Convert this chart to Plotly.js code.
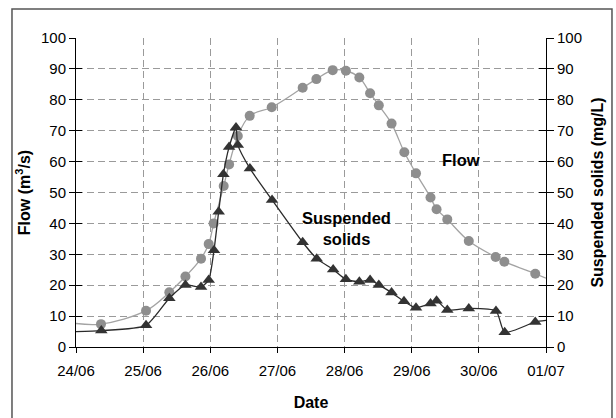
<!DOCTYPE html>
<html>
<head>
<meta charset="utf-8">
<script src="https://cdn.plot.ly/plotly-3.0.1.min.js"></script>
<style>
  html, body { margin: 0; padding: 0; background: #fff; }
  #chart { width: 616px; height: 418px; }
</style>
</head>
<body>
<div id="chart"></div>
<script>
// Day offsets since 24/06 00:00 (first and last entries are where the curves meet the axes)
const flowDay = [0, 0.372, 1.043, 1.39, 1.63, 1.862, 1.976, 2.05, 2.2, 2.28, 2.41, 2.587, 2.915, 3.376, 3.58, 3.823, 4.02, 4.22, 4.38, 4.51, 4.70, 4.89, 5.064, 5.28, 5.37, 5.53, 5.85, 6.25, 6.38, 6.84, 7.0];
const flowVal = [7.6, 7.4, 11.75, 17.7, 22.8, 28.6, 33.3, 40.0, 52.1, 59.1, 68.3, 74.8, 77.6, 83.9, 86.7, 89.6, 89.4, 87.2, 82.1, 78.2, 72.3, 63.0, 56.2, 48.4, 44.6, 41.3, 34.3, 29.1, 27.6, 23.7, 22.3];

const ssDay = [0, 0.377, 1.043, 1.39, 1.63, 1.862, 1.976, 2.055, 2.125, 2.195, 2.28, 2.383, 2.41, 2.59, 2.92, 3.376, 3.585, 3.83, 4.02, 4.22, 4.38, 4.51, 4.70, 4.885, 5.064, 5.28, 5.37, 5.53, 5.85, 6.255, 6.385, 6.84, 7.0];
const ssVal = [5.0, 5.3, 7.0, 15.8, 20.1, 19.4, 21.7, 31.3, 43.8, 55.9, 64.7, 71.0, 65.4, 57.8, 47.6, 33.9, 28.6, 25.1, 21.9, 21.1, 21.7, 20.1, 17.6, 14.8, 12.7, 14.1, 15.0, 12.0, 12.5, 11.65, 4.75, 8.1, 8.6];

const xTickPos = [0, 1, 2, 3, 4, 5, 6, 7];
const xTickLabels = ['24/06', '25/06', '26/06', '27/06', '28/06', '29/06', '30/06', '01/07'];
const yTicks = [0, 10, 20, 30, 40, 50, 60, 70, 80, 90, 100];

const FONT = 'Liberation Sans, Arial, sans-serif';

const traces = [
  { x: flowDay, y: flowVal, mode: 'lines', line: { color: '#a3a3a3', width: 1.3, shape: 'spline', smoothing: 1 }, hoverinfo: 'skip' },
  { x: flowDay.slice(1, -1), y: flowVal.slice(1, -1), mode: 'markers', marker: { symbol: 'circle', size: 10, color: '#8e8e8e' } },
  { x: ssDay, y: ssVal, yaxis: 'y2', mode: 'lines', line: { color: '#2a2a2a', width: 1.3, shape: 'spline', smoothing: 0.6 }, hoverinfo: 'skip' },
  { x: ssDay.slice(1, -1), y: ssVal.slice(1, -1), yaxis: 'y2', mode: 'markers', marker: { symbol: 'triangle-up', size: 11, color: '#333333' } }
];

const gridDash = '7px,4px';

const layout = {
  width: 616, height: 418,
  margin: { l: 76, r: 70, t: 38, b: 71, pad: 0 },
  paper_bgcolor: '#ffffff', plot_bgcolor: '#ffffff',
  showlegend: false,
  font: { family: FONT, size: 15, color: '#000' },
  xaxis: {
    range: [0, 7], tickmode: 'array', tickvals: xTickPos, ticktext: xTickLabels,
    showgrid: true, gridcolor: '#9a9a9a', griddash: gridDash, gridwidth: 1,
    showline: true, linecolor: '#000', linewidth: 1,
    ticks: 'outside', ticklen: 5, tickcolor: '#000', zeroline: false,
    ticklabelstandoff: 5,
    tickfont: { family: FONT, size: 15, color: '#000' },
    title: { text: '<b>Date</b>', font: { family: FONT, size: 16, color: '#000' }, standoff: 18 }
  },
  yaxis: {
    range: [0, 100], tickmode: 'array', tickvals: yTicks,
    showgrid: true, gridcolor: '#9a9a9a', griddash: gridDash, gridwidth: 1,
    showline: true, linecolor: '#000', linewidth: 1,
    ticks: 'outside', ticklen: 6, tickcolor: '#000', zeroline: false,
    tickfont: { family: FONT, size: 15, color: '#000' },
    title: { text: '<b>Flow (m<sup>3</sup>/s)</b>', font: { family: FONT, size: 16, color: '#000' }, standoff: 6 }
  },
  yaxis2: {
    overlaying: 'y', side: 'right', range: [0, 100], tickmode: 'array', tickvals: yTicks,
    showgrid: false, showline: true, linecolor: '#000', linewidth: 1,
    ticks: 'outside', ticklen: 7, tickcolor: '#000', zeroline: false,
    tickfont: { family: FONT, size: 15, color: '#000' },
    title: { text: '<b>Suspended solids (mg/L)</b>', font: { family: FONT, size: 16, color: '#000' }, standoff: 10 }
  },
  yaxis3: {
    overlaying: 'y', side: 'left', range: [0, 100], tickmode: 'array', tickvals: yTicks,
    showgrid: false, showline: false, zeroline: false, showticklabels: false,
    ticks: 'inside', ticklen: 6, tickcolor: '#000'
  },
  yaxis4: {
    overlaying: 'y', side: 'right', range: [0, 100], tickmode: 'array', tickvals: yTicks,
    showgrid: false, showline: false, zeroline: false, showticklabels: false,
    ticks: 'inside', ticklen: 7, tickcolor: '#000'
  },
  annotations: [
    { x: 5.74, y: 60.5, xref: 'x', yref: 'y', text: '<b>Flow</b>', showarrow: false,
      font: { family: FONT, size: 16.5, color: '#000' } },
    { x: 4.03, y: 38.5, xref: 'x', yref: 'y', text: '<b>Suspended<br>solids</b>', showarrow: false,
      font: { family: FONT, size: 16.5, color: '#000' } }
  ],
  shapes: [
    { type: 'rect', xref: 'paper', yref: 'paper', x0: -0.1362, x1: 1.1404, y0: -0.26, y1: 1.0939,
      line: { color: '#555', width: 1.5 }, fillcolor: 'rgba(0,0,0,0)', layer: 'below' }
  ]
};

// attach invisible traces so the inner-tick axes get drawn
traces.push({ x: [0], y: [0], yaxis: 'y3', mode: 'markers', marker: { opacity: 0 }, hoverinfo: 'skip' });
traces.push({ x: [0], y: [0], yaxis: 'y4', mode: 'markers', marker: { opacity: 0 }, hoverinfo: 'skip' });

Plotly.newPlot('chart', traces, layout, { displayModeBar: false, staticPlot: true });
</script>
</body>
</html>
